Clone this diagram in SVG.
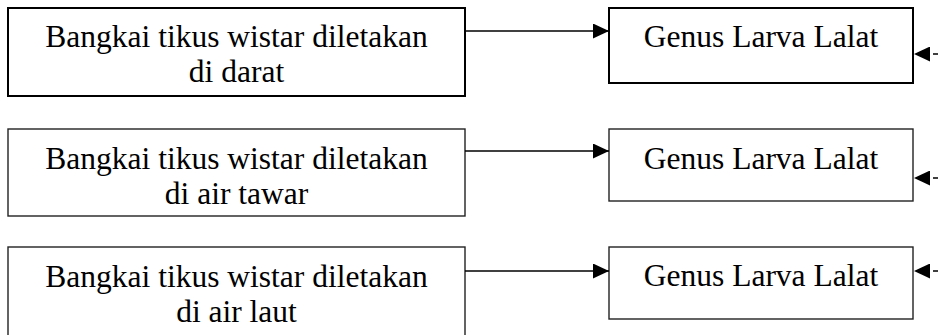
<svg xmlns="http://www.w3.org/2000/svg" width="938" height="335" viewBox="0 0 938 335">
  <style>
    .box { fill: #fff; stroke: #000; }
    .b1 { stroke-width: 2; }
    .b2 { stroke-width: 1.4; stroke: #222; }
    .lbl { font-family: "Liberation Serif", "Times New Roman", serif; font-size: 31.5px; fill: #000; text-anchor: middle; }
    .link { stroke: #000; stroke-width: 1.4; fill: none; }
    .stub { stroke: #000; stroke-width: 1.4; fill: none; stroke-dasharray: 5 3; }
  </style>
  <defs>
    <marker id="head" markerWidth="16" markerHeight="15" refX="16" refY="7.5" orient="auto" markerUnits="userSpaceOnUse">
      <path d="M0,0 L16,7.5 L0,15 Z" fill="#000"/>
    </marker>
  </defs>

  <rect width="938" height="335" fill="#fff"/>

  <!-- source boxes -->
  <g id="darat">
    <rect class="box b1" x="8" y="8" width="457" height="88"/>
    <text class="lbl" x="236.5" y="46.5">Bangkai tikus wistar diletakan</text>
    <text class="lbl" x="236.5" y="81.5">di darat</text>
  </g>
  <g id="air-tawar">
    <rect class="box b2" x="8" y="129" width="457" height="87"/>
    <text class="lbl" x="236.5" y="169">Bangkai tikus wistar diletakan</text>
    <text class="lbl" x="236.5" y="204">di air tawar</text>
  </g>
  <g id="air-laut">
    <rect class="box b2" x="8" y="247" width="457" height="100"/>
    <text class="lbl" x="236.5" y="287">Bangkai tikus wistar diletakan</text>
    <text class="lbl" x="236.5" y="322">di air laut</text>
  </g>

  <!-- result boxes -->
  <g id="genus-1">
    <rect class="box b1" x="609" y="8" width="304" height="75"/>
    <text class="lbl" x="761" y="46.5">Genus Larva Lalat</text>
  </g>
  <g id="genus-2">
    <rect class="box b2" x="609" y="129" width="304" height="72"/>
    <text class="lbl" x="761" y="169">Genus Larva Lalat</text>
  </g>
  <g id="genus-3">
    <rect class="box b2" x="609" y="247" width="304" height="72"/>
    <text class="lbl" x="761" y="286">Genus Larva Lalat</text>
  </g>

  <!-- connectors -->
  <g id="connectors">
    <line class="link" x1="465" y1="31" x2="609" y2="31" marker-end="url(#head)"/>
    <line class="link" x1="465" y1="151" x2="609" y2="151" marker-end="url(#head)"/>
    <line class="link" x1="465" y1="271" x2="609" y2="271" marker-end="url(#head)"/>

    <line class="stub" x1="938" y1="54" x2="914" y2="54" marker-end="url(#head)"/>
    <line class="stub" x1="938" y1="178" x2="914" y2="178" marker-end="url(#head)"/>
    <line class="stub" x1="938" y1="271" x2="914" y2="271" marker-end="url(#head)"/>
  </g>
</svg>
